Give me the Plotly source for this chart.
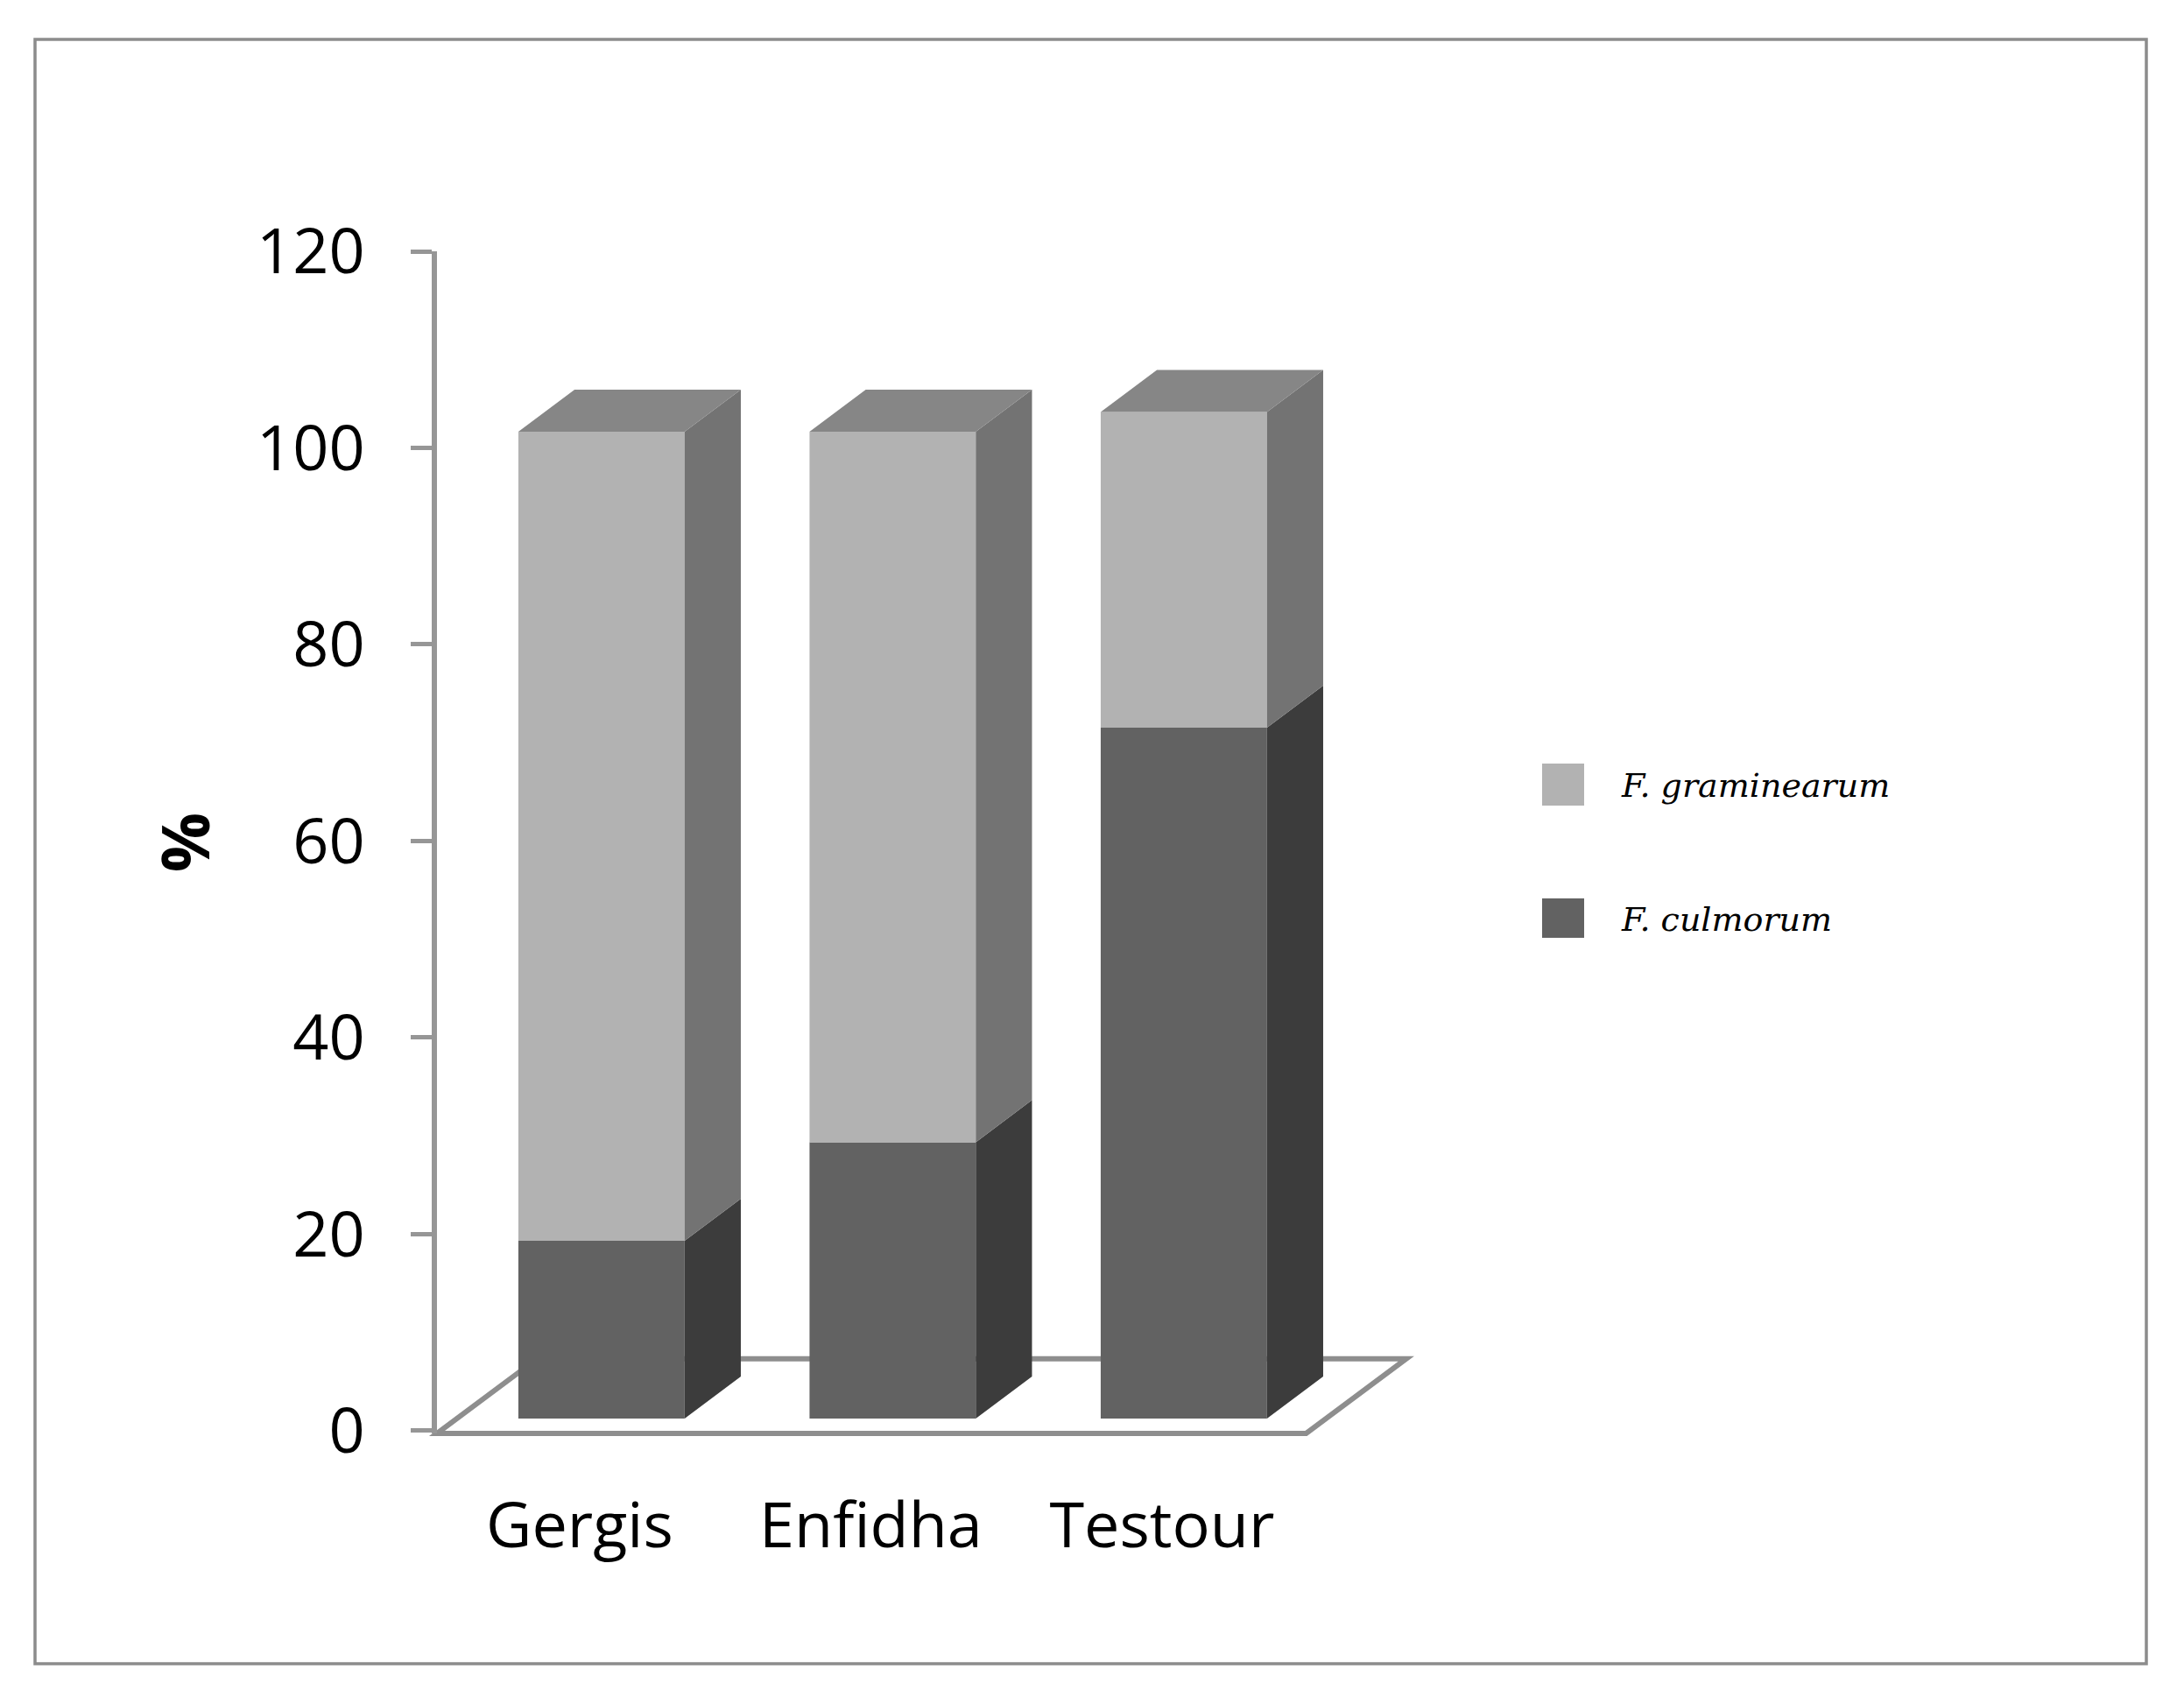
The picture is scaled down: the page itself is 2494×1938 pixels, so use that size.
import plotly.graph_objects as go

# Data
categories = ["Gergis", "Enfidha", "Testour"]
culmorum = [18, 28, 70]
graminearum = [82, 72, 32]
y_ticks = [0, 20, 40, 60, 80, 100, 120]
series_names = ["F. graminearum", "F. culmorum"]

# Look of the pseudo-3D chart (axis units)
W, H = 2494, 1938
L, R, T, B = 491, 799, 279, 309
X_RANGE = [-0.49, 3.131]
Y_RANGE = [-0.27, 120]
BAR_SHIFT, BAR_W = 0.075, 0.571
DX, DY = 0.193, 4.28
BASE, K = 1.25, 1.004
FLOOR_LEFT, FLOOR_RIGHT, FLOOR_DX, FLOOR_DY = -0.49, 2.495, 0.344, 7.6

C_G, C_G_SIDE, C_G_TOP = "#b2b2b2", "#737373", "#868686"
C_C, C_C_SIDE = "#626262", "#3c3c3c"
C_AXIS = "#969696"
C_FLOOR = "#8e8e8e"

# paper coordinates are relative to the plot area
fx = lambda v: (v - X_RANGE[0]) / (X_RANGE[1] - X_RANGE[0])
fy = lambda v: (v - Y_RANGE[0]) / (Y_RANGE[1] - Y_RANGE[0])
px2p = lambda p: (p - L) / (W - L - R)
py2p = lambda p: 1 - (p - T) / (H - T - B)

xs = [i + BAR_SHIFT for i in range(len(categories))]
c_top = [BASE + K * v for v in culmorum]
g_top = [BASE + K * (a + b) for a, b in zip(culmorum, graminearum)]


def side(bottoms, tops):
    px, py = [], []
    for x, b, t in zip(xs, bottoms, tops):
        r = x + BAR_W / 2
        px += [r, r + DX, r + DX, r, r, None]
        py += [b, b + DY, t + DY, t, b, None]
    return px, py


def top(tops):
    px, py = [], []
    for x, t in zip(xs, tops):
        l, r = x - BAR_W / 2, x + BAR_W / 2
        px += [l, r, r + DX, l + DX, l, None]
        py += [t, t, t + DY, t + DY, t, None]
    return px, py


fig = go.Figure()
fig.add_bar(name=series_names[1], x=xs, y=[t - BASE for t in c_top], base=[BASE] * 3,
            width=BAR_W, marker=dict(color=C_C, line=dict(width=0)), showlegend=False)
fig.add_bar(name=series_names[0], x=xs, y=[g - c for g, c in zip(g_top, c_top)], base=c_top,
            width=BAR_W, marker=dict(color=C_G, line=dict(width=0)), showlegend=False)

for (px, py), col in [(side([BASE] * 3, c_top), C_C_SIDE),
                      (side(c_top, g_top), C_G_SIDE),
                      (top(g_top), C_G_TOP)]:
    fig.add_scatter(x=px, y=py, mode="lines", fill="toself", fillcolor=col,
                    line=dict(width=0, color=col), showlegend=False, hoverinfo="skip")

# floor (parallelogram), drawn below the bars
x0, x1, y0 = FLOOR_LEFT, FLOOR_RIGHT, Y_RANGE[0]
floor = (f"M {fx(x0)} {fy(y0)} L {fx(x1)} {fy(y0)} L {fx(x1 + FLOOR_DX)} {fy(y0 + FLOOR_DY)} "
         f"L {fx(x0 + FLOOR_DX)} {fy(y0 + FLOOR_DY)} Z")
shapes = [
    dict(type="path", path=floor, xref="paper", yref="paper", layer="below",
         line=dict(color=C_FLOOR, width=6)),
    dict(type="rect", xref="paper", yref="paper", x0=px2p(32), x1=px2p(2443),
         y0=py2p(1892), y1=py2p(37), line=dict(color="#8c8c8c", width=3.5), layer="below"),
]

# legend
annotations = []
for name, col, (sy0, sy1), ty in [(series_names[0], C_G, (864, 912), 889),
                                  (series_names[1], C_C, (1018, 1063), 1042)]:
    shapes.append(dict(type="rect", xref="paper", yref="paper", x0=px2p(1753), x1=px2p(1801),
                       y0=py2p(sy1), y1=py2p(sy0), fillcolor=col, line=dict(width=0)))
    annotations.append(dict(text=f"<i>{name}</i>", xref="paper", yref="paper", x=px2p(1841),
                            y=py2p(ty), xanchor="left", yanchor="middle", showarrow=False,
                            font=dict(family="DejaVu Serif", size=38, color="#000000")))

fig.update_layout(
    width=W, height=H, margin=dict(l=L, r=R, t=T, b=B, pad=0),
    paper_bgcolor="white", plot_bgcolor="rgba(0,0,0,0)",
    barmode="overlay", shapes=shapes, annotations=annotations, showlegend=False,
    xaxis=dict(range=X_RANGE, tickmode="array", tickvals=list(range(len(categories))),
               ticktext=categories, showgrid=False, zeroline=False, showline=False, ticks="",
               ticklabelstandoff=57, tickfont=dict(family="Open Sans", size=72, color="#000000")),
    yaxis=dict(range=Y_RANGE, tickmode="array", tickvals=y_ticks, showgrid=False, zeroline=False,
               showline=True, linecolor=C_AXIS, linewidth=6, ticks="outside", ticklen=24,
               tickwidth=5, tickcolor=C_AXIS, ticklabelstandoff=38,
               tickfont=dict(family="Open Sans", size=72, color="#000000"),
               title=dict(text="<b>%</b>", standoff=30,
                          font=dict(family="Open Sans", size=76, color="#000000"))),
)
fig.write_html("out.html")
